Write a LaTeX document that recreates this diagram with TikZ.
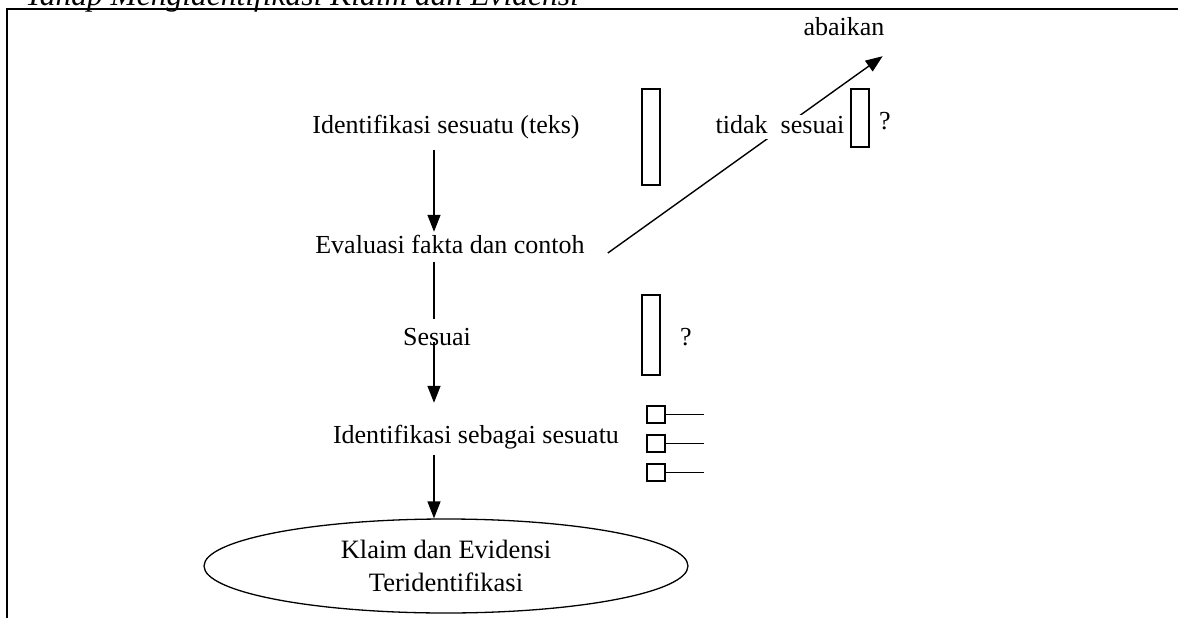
\documentclass[tikz,border=0pt]{standalone}
\usepackage{fontspec}
\setmainfont{Liberation Serif}
\usetikzlibrary{arrows.meta,shapes.geometric,calc}
\begin{document}
\begin{tikzpicture}[x=1pt,y=-1pt,
  txt/.style={inner sep=0pt, text height=18pt, text depth=6pt,
              font=\fontsize{26}{31}\selectfont},
  arr/.style={line width=1.4pt, -{Triangle[length=17pt,width=13pt]}},
  ln/.style={line width=1.4pt},
  box/.style={line width=1.2pt}]
\useasboundingbox (0,0) rectangle (1178,618);
\fill[white] (0,0) rectangle (1178,618);

% heading and frame
\node[anchor=base west, inner sep=0pt, font=\itshape\fontsize{31.5}{36}\selectfont]
  (title) at (25,5.5) {Tahap Mengidentifikasi Klaim dan Evidensi};
\draw[line width=1.6pt] (7,618) -- (7,9) -- (1178,9);

% flow labels
\coordinate (ax) at (434,0);
\node[txt] (id1) at (446,127) {Identifikasi sesuatu (teks)};
\node[txt] (ev)  at (450,247) {Evaluasi fakta dan contoh};
\node[txt] (ses) at (437,339) {Sesuai};
\node[txt] (idb) at (476,437) {Identifikasi sebagai sesuatu};
\node[txt] (ab)  at (844,30)  {abaikan};
\node[ellipse, draw, line width=1.3pt, minimum width=484pt,
      minimum height=94pt, inner sep=0pt, align=center,
      font=\fontsize{26.5}{33}\selectfont]
  (ell) at (446,566) {Klaim dan Evidensi\\Teridentifikasi};

% main vertical flow
\draw[arr] ($(id1.south -| ax)+(0,11)$) -- ($(ev.north -| ax)+(0,-3)$);
\draw[ln]  ($(ev.south -| ax)+(0,3)$) -- ($(ses.north -| ax)+(0,-8)$);
\draw[arr] ($(ses.south -| ax)+(0,-9)$) -- ($(idb.north -| ax)+(0,-22)$);
\draw[arr] ($(idb.south -| ax)+(0,6)$) -- (ell.north -| ax);

% branch to "abaikan"
\coordinate (d0) at ($(ev.east)+(23,6)$);
\coordinate (d1) at ($(ab.south east)+(-2,14)$);
\draw[arr] (d0) -- (d1);
\node[txt, fill=white] (tdk) at (780,127) {tidak\hspace{0.5em}sesuai};

% side boxes and question marks
\draw[box] (642,89) rectangle (660,185);
\draw[box] (851,89) rectangle (869,147);
\node[txt] (q1) at (885,123) {?};
\draw[box] (642,295) rectangle (660,375);
\node[txt] (q2) at (686,339) {?};

% small check boxes with lines
\foreach \yy in {406,435,464}{
  \draw[box] (647,\yy) rectangle (665,\yy+17);
  \draw[box] (665,\yy+8.5) -- (704,\yy+8.5);
}
\end{tikzpicture}
\end{document}
